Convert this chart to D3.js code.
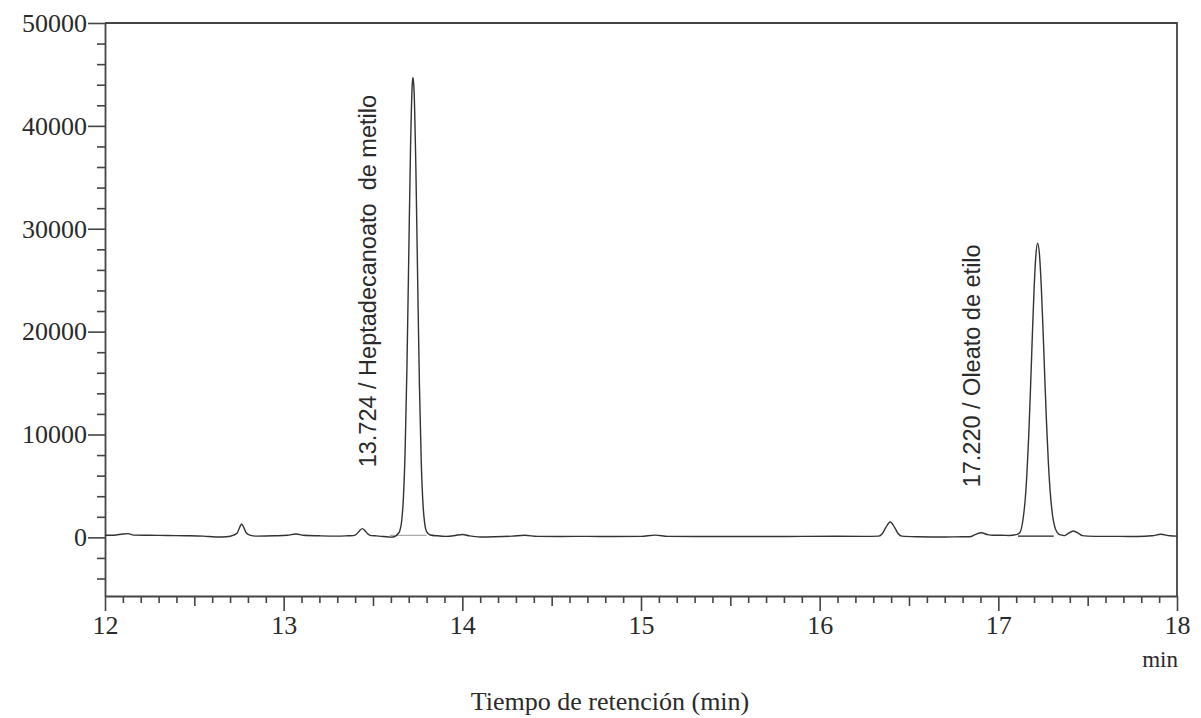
<!DOCTYPE html>
<html>
<head>
<meta charset="utf-8">
<script src="https://cdn.jsdelivr.net/npm/d3@7/dist/d3.min.js"></script>
<style>
  html, body { margin: 0; padding: 0; background: #fff; }
  svg { display: block; }
</style>
</head>
<body>
<svg id="chart" width="1201" height="718"></svg>
<script>
// Chromatogram trace: retention time (min) and detector signal (uV)
const retentionTime = [
  12.00, 12.05, 12.10, 12.13, 12.16, 12.25, 12.35, 12.45, 12.55, 12.62, 12.68, 12.72,
  12.74, 12.75, 12.765, 12.78, 12.79, 12.81, 12.85, 12.95, 13.02, 13.07, 13.11, 13.20,
  13.30, 13.36, 13.39, 13.41, 13.425, 13.44, 13.455, 13.47, 13.49, 13.52, 13.56, 13.60,
  13.62, 13.64, 13.65, 13.66, 13.67, 13.68, 13.69, 13.70, 13.71, 13.72, 13.724, 13.73,
  13.74, 13.75, 13.76, 13.77, 13.78, 13.79, 13.80, 13.82, 13.86, 13.91, 13.96, 14.00,
  14.04, 14.10, 14.18, 14.28, 14.35, 14.42, 14.55, 14.70, 14.85, 15.00, 15.08, 15.15,
  15.30, 15.50, 15.70, 15.90, 16.10, 16.25, 16.33, 16.35, 16.37, 16.395, 16.42, 16.44,
  16.46, 16.55, 16.70, 16.80, 16.84, 16.87, 16.905, 16.94, 16.97, 17.02, 17.06, 17.10,
  17.12, 17.14, 17.15, 17.16, 17.17, 17.18, 17.19, 17.20, 17.21, 17.22, 17.23, 17.24,
  17.25, 17.26, 17.27, 17.28, 17.29, 17.30, 17.32, 17.34, 17.36, 17.37, 17.39, 17.42,
  17.45, 17.47, 17.50, 17.58, 17.68, 17.78, 17.86, 17.91, 17.96, 18.00
];
const signal = [
  200, 210, 330, 360, 220, 200, 180, 160, 120, 40, 60, 220,
  420, 820, 1300, 820, 450, 220, 120, 150, 200, 330, 200, 150,
  120, 150, 170, 350, 650, 850, 650, 350, 170, 140, 80, 20,
  60, 350, 640, 1520, 3790, 8530, 16550, 27240, 37800, 44140, 44700, 43380,
  35880, 25000, 14700, 7340, 3180, 1265, 550, 230, 150, 100, 180, 280,
  150, 40, 60, 120, 200, 100, 90, 100, 80, 100, 220, 100,
  80, 90, 80, 100, 110, 100, 120, 350, 950, 1500, 950, 350,
  120, 60, 30, 60, 60, 260, 450, 260, 200, 200, 180, 260,
  450, 1980, 3610, 6190, 9830, 14420, 19450, 24090, 27400, 28600, 27530, 24540,
  20270, 15520, 11030, 7280, 4490, 2610, 800, 300, 200, 170, 370, 620,
  370, 170, 120, 100, 100, 80, 150, 300, 150, 120
];

// Identified peaks: retention time, apex signal, integration window and name
const peakTimes = [13.724, 17.220];
const peakHeights = [44700, 28600];
const peakStart = [13.595, 17.110];
const peakEnd = [13.800, 17.310];
const peakBase = [200, 120];
const peakNames = ["Heptadecanoato  de metilo", "Oleato de etilo"];

// Axis settings
const xDomain = [12, 18];
const yDomain = [-5700, 50000];
const xMajorTicks = [12, 13, 14, 15, 16, 17, 18];
const yMajorTicks = [0, 10000, 20000, 30000, 40000, 50000];
const xTitle = "Tiempo de retención (min)";
const xUnit = "min";

const svg = d3.select("#chart");
const margin = { left: 105, right: 24, top: 23, bottom: 122 };
const W = 1201, H = 718;

const x = d3.scaleLinear().domain(xDomain).range([margin.left, W - margin.right]);
const y = d3.scaleLinear().domain(yDomain).range([H - margin.bottom, margin.top]);

const serif = "'Liberation Serif', 'Times New Roman', serif";
const sans = "'Liberation Sans', Arial, sans-serif";
const ink = "#2a2a2a";

// Minor / medium tick positions derived from the axis domain
const xMinor = d3.range(121, 180).map(d => d / 10).filter(d => !xMajorTicks.includes(d));
const xHalf = xMinor.filter(d => Math.abs(d * 2 - Math.round(d * 2)) < 1e-9);
const xTenth = xMinor.filter(d => !xHalf.includes(d));
const yMinor = d3.range(-4000, 50000, 2000).filter(d => d % 10000 !== 0);

// Y axis
const yAxis = svg.append("g").attr("transform", `translate(${x(xDomain[0])},0)`);
yAxis.call(d3.axisLeft(y).tickValues(yMajorTicks).tickFormat(d3.format("d"))
  .tickSizeInner(17).tickSizeOuter(0).tickPadding(1));
yAxis.append("g").call(d3.axisLeft(y).tickValues(yMinor).tickFormat("").tickSizeInner(8).tickSizeOuter(0))
  .select(".domain").remove();

// X axis
const xAxis = svg.append("g").attr("transform", `translate(0,${y(yDomain[0])})`);
xAxis.call(d3.axisBottom(x).tickValues(xMajorTicks).tickFormat(d3.format("d"))
  .tickSizeInner(15).tickSizeOuter(0).tickPadding(5));
xAxis.append("g").call(d3.axisBottom(x).tickValues(xHalf).tickFormat("").tickSizeInner(10).tickSizeOuter(0))
  .select(".domain").remove();
xAxis.append("g").call(d3.axisBottom(x).tickValues(xTenth).tickFormat("").tickSizeInner(7).tickSizeOuter(0))
  .select(".domain").remove();

svg.selectAll(".tick line").attr("stroke", "#444").attr("stroke-width", 1.6);
svg.selectAll(".domain").attr("stroke", "#444").attr("stroke-width", 1.8);
svg.selectAll(".tick text").attr("font-family", serif).attr("font-size", 26).attr("fill", ink);

// Frame (top and right edges)
svg.append("path")
  .attr("d", `M${x(xDomain[0])},${y(yDomain[1])}H${x(xDomain[1])}V${y(yDomain[0])}`)
  .attr("fill", "none").attr("stroke", "#444").attr("stroke-width", 1.8);

// Integration baselines under the identified peaks
svg.append("g").selectAll("line").data(peakTimes).join("line")
  .attr("x1", (d, i) => x(peakStart[i]))
  .attr("x2", (d, i) => x(peakEnd[i]))
  .attr("y1", (d, i) => y(peakBase[i]))
  .attr("y2", (d, i) => y(peakBase[i]))
  .attr("stroke", (d, i) => i === 0 ? "#aaa" : "#222")
  .attr("stroke-width", 1.3);

// Trace
const trace = retentionTime.map((t, i) => [t, signal[i]]);
svg.append("path")
  .datum(trace)
  .attr("fill", "none")
  .attr("stroke", "#333")
  .attr("stroke-width", 1.4)
  .attr("stroke-linejoin", "round")
  .attr("d", d3.line().x(d => x(d[0])).y(d => y(d[1])).curve(d3.curveMonotoneX));

// Peak labels, rotated, to the left of each apex
const labelOffsetX = [-37, -58];
const labelOffsetY = [-70, -50];
svg.append("g").selectAll("text").data(peakTimes).join("text")
  .attr("transform", (d, i) => `translate(${x(d) + labelOffsetX[i]},${y(0) + labelOffsetY[i]}) rotate(-90)`)
  .attr("font-family", sans)
  .attr("font-size", 23.5)
  .attr("fill", ink)
  .style("white-space", "pre")
  .text((d, i) => `${d.toFixed(3)} / ${peakNames[i]}`);

// Axis titles
svg.append("text")
  .attr("x", x(xDomain[1]) + 1).attr("y", 667)
  .attr("text-anchor", "end")
  .attr("font-family", serif).attr("font-size", 23).attr("fill", ink)
  .text(xUnit);

svg.append("text")
  .attr("x", 610).attr("y", 710)
  .attr("text-anchor", "middle")
  .attr("font-family", serif).attr("font-size", 26).attr("fill", ink)
  .text(xTitle);
</script>
</body>
</html>
